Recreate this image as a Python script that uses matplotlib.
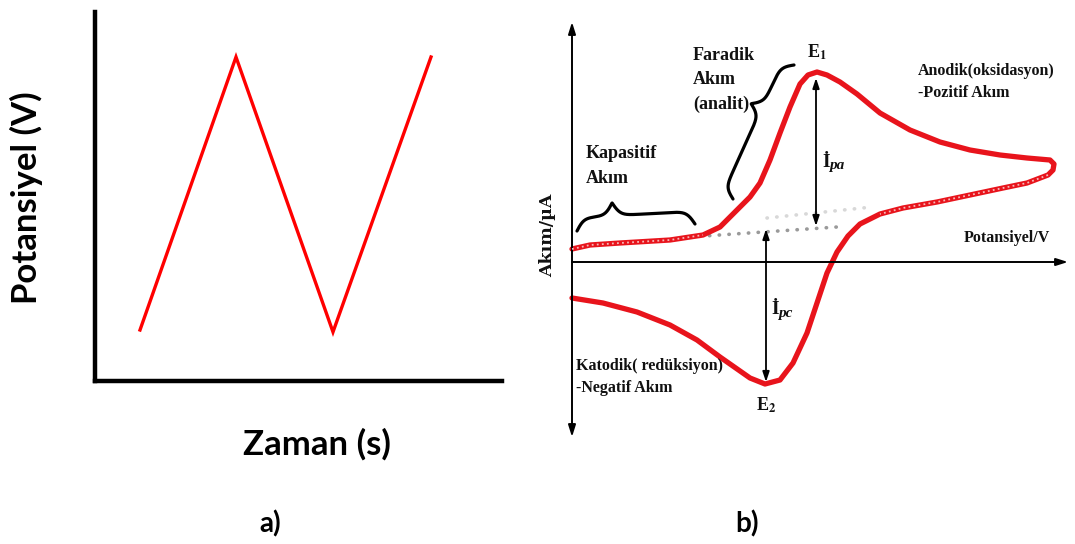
import numpy as np
import matplotlib
matplotlib.use("Agg")
import matplotlib.pyplot as plt

plt.rcParams["mathtext.fontset"] = "stix"

# ---------------- data ----------------
# panel a: triangular potential waveform
time_a = [45, 141, 238, 336]
pot_a = [51, 324, 49, 324]

# panel b: cyclic voltammogram (potential, current) in arbitrary units
fwd_E = [0, 18, 48, 98, 131, 148, 165, 178, 188, 198, 208, 218, 228, 236, 245,
         255, 268, 285, 308, 338, 368, 398, 428, 455, 478]
fwd_I = [13, 17, 19, 22, 27, 35, 52, 65, 79, 102, 129, 155, 178, 187, 190,
         187, 180, 168, 149, 132, 120, 112, 107, 104, 102]
turn_E = [482, 481]
turn_I = [98, 92]
rev_E = [476, 455, 431, 398, 365, 331, 308, 288, 276, 265, 255, 245, 235, 221,
         208, 193, 178, 148, 125, 98, 65, 31, 0]
rev_I = [87, 79, 74, 67, 60, 54, 48, 38, 26, 10, -11, -41, -71, -101,
         -118, -122, -116, -95, -78, -63, -50, -41, -36]
base_E = [118, 265]
base_I = [25, 35]
ipa_E, ipa_top, ipa_bot = 244, 184, 36
ipc_E, ipc_top, ipc_bot = 194, 33, -120

# ---------------- figure ----------------
W, H = 1075, 544
fig = plt.figure(figsize=(W / 100, H / 100), dpi=100)
fig.patch.set_facecolor("white")

def px(x, y):
    return x / W, 1 - y / H

# ---- panel a ----
axa = fig.add_axes([95 / W, 163 / H, 407 / W, 369 / H])
axa.plot(time_a, pot_a, color="#ff0000", lw=2.4, solid_joinstyle="miter")
axa.set_xlim(0, 407)
axa.set_ylim(0, 369)
for s in ["top", "right"]:
    axa.spines[s].set_visible(False)
for s in ["left", "bottom"]:
    axa.spines[s].set_linewidth(3.2)
    axa.spines[s].set_color("black")
axa.set_xticks([])
axa.set_yticks([])
axa.patch.set_alpha(0)

sans = ["Lato", "Open Sans", "DejaVu Sans"]
fig.text(*px(26, 198), "Potansiyel (V)", rotation=90, ha="center", va="center",
         fontsize=25, fontweight="bold", family=sans)
fig.text(*px(317, 444), "Zaman (s)", ha="center", va="center",
         fontsize=25, fontweight="bold", family=sans)
fig.text(*px(270, 524), "a)", ha="center", va="center",
         fontsize=20, fontweight="bold", family=sans)
fig.text(*px(747, 524), "b)", ha="center", va="center",
         fontsize=20, fontweight="bold", family=sans)

# ---- panel b ----
x0, y0 = 572, 262  # origin pixel
axb = fig.add_axes([560 / W, (H - 460) / H, 515 / W, 460 / H])
axb.set_xlim(560 - x0, 1075 - x0)
axb.set_ylim(y0 - 460, y0 - 0)
axb.axis("off")

red = "#e8141c"
E_all = fwd_E + turn_E + rev_E
I_all = fwd_I + turn_I + rev_I
axb.plot(E_all, I_all, color=red, lw=3.8, solid_joinstyle="round",
         solid_capstyle="round", zorder=3)
# hatch texture on capacitive regions
axb.plot(fwd_E[:5], fwd_I[:5], color="#f5b8b8", lw=1.3, ls=(0, (1.0, 1.8)), zorder=4)
axb.plot(rev_E[:7], rev_I[:7], color="#f5b8b8", lw=1.3, ls=(0, (1.0, 1.8)), zorder=4)
# baseline (dotted grey)
axb.plot(base_E, base_I, color="#9a9a9a", lw=2.6, ls=(0, (0.1, 2.6)),
         dash_capstyle="round", zorder=2)
axb.plot([195, 300], [44, 55], color="#d8d8d8", lw=2.6, ls=(0, (0.1, 2.6)),
         dash_capstyle="round", zorder=1)

# axes arrows
arr = dict(arrowstyle="-|>,head_length=0.7,head_width=0.22", color="black", lw=1.4,
           shrinkA=0, shrinkB=0)
axb.annotate("", xy=(0, 262 - 22), xytext=(0, 0), arrowprops=arr)
axb.annotate("", xy=(0, 262 - 437), xytext=(0, 0), arrowprops=arr)
axb.annotate("", xy=(1068 - x0, 0), xytext=(0, 0), arrowprops=arr)

# peak current arrows
darr = dict(arrowstyle="<|-|>,head_length=0.6,head_width=0.2", color="black", lw=1.3,
            shrinkA=0, shrinkB=0)
axb.annotate("", xy=(ipa_E, ipa_top), xytext=(ipa_E, ipa_bot), arrowprops=darr)
axb.annotate("", xy=(ipc_E, ipc_top), xytext=(ipc_E, ipc_bot), arrowprops=darr)

# braces
def brace(p1, p2, depth, frac=0.5, beta=0.3, n=400):
    p1 = np.array(p1, float)
    p2 = np.array(p2, float)
    d = p2 - p1
    L = np.hypot(*d)
    u = d / L
    nrm = np.array([-u[1], u[0]])
    c = frac * L
    s = np.linspace(0, L, n)
    sig = lambda z: 1 / (1 + np.exp(-beta * z))
    y = np.where(s <= c, sig(s) + sig(s - c), sig(L - s) + sig(c - s)) - 0.5
    y = y * depth
    pts = p1[None, :] + s[:, None] * u[None, :] + y[:, None] * nrm[None, :]
    return pts[:, 0], pts[:, 1]

bx, by = brace((577 - x0, 262 - 231), (695 - x0, 262 - 224), 26, frac=0.31, beta=0.26)
axb.plot(bx, by, color="black", lw=2.3, solid_capstyle="round")
bx, by = brace((733 - x0, 262 - 199), (794 - x0, 262 - 65), 23, frac=0.64, beta=0.26)
axb.plot(bx, by, color="black", lw=2.3, solid_capstyle="round")

serif = ["Liberation Serif", "DejaVu Serif"]
tk = dict(fontweight="bold", family=serif, color="#111111")
fig.text(*px(548, 235), "Akım/µA", rotation=90, ha="center", va="center",
         fontsize=12.5, fontweight="bold", family=["DejaVu Serif"], color="#111111")
fig.text(*px(693, 80), "Faradik\nAkım\n(analit)", ha="left", va="center", fontsize=13,
         linespacing=1.55, **tk)
fig.text(*px(586, 166), "Kapasitif\nAkım", ha="left", va="center", fontsize=13,
         linespacing=1.55, **tk)
fig.text(*px(918, 82), "Anodik(oksidasyon)\n-Pozitif Akım", ha="left", va="center",
         fontsize=11.5, linespacing=1.55, **tk)
fig.text(*px(1050, 238), "Potansiyel/V", ha="right", va="center", fontsize=11.5, **tk)
fig.text(*px(576, 377), "Katodik( redüksiyon)\n-Negatif Akım", ha="left", va="center",
         fontsize=11.5, linespacing=1.55, **tk)
fig.text(*px(817, 52), r"E$_{\mathbf{1}}$", ha="center", va="center", fontsize=13, **tk)
fig.text(*px(766, 405), r"E$_{\mathbf{2}}$", ha="center", va="center", fontsize=13, **tk)
fig.text(*px(822, 163), "İ", ha="left", va="center", fontsize=14, **tk)
fig.text(*px(829, 166), "pa", ha="left", va="center", fontsize=11, style="italic", **tk)
fig.text(*px(771, 310), "İ", ha="left", va="center", fontsize=14, **tk)
fig.text(*px(778, 313), "pc", ha="left", va="center", fontsize=11, style="italic", **tk)

fig.savefig("out.png", dpi=100, facecolor="white")
